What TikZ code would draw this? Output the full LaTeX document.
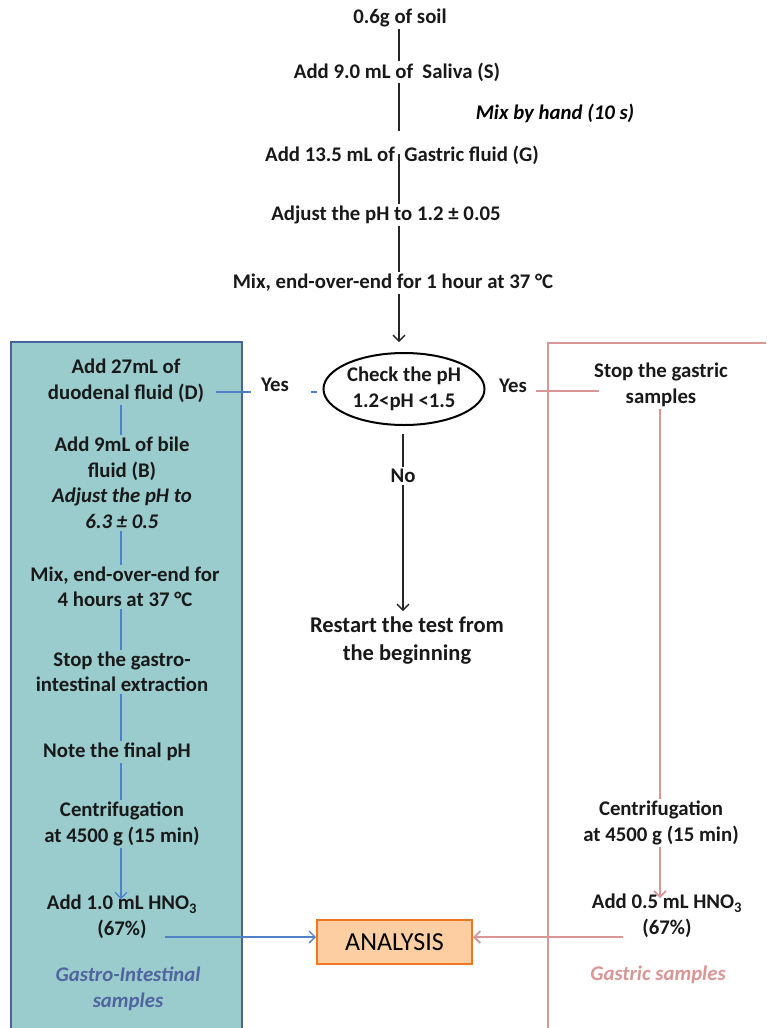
\documentclass[tikz,border=0pt]{standalone}
\usepackage{fontspec}
\setmainfont{Carlito}
\usetikzlibrary{arrows.meta,shapes.geometric,calc}
\definecolor{tealfill}{RGB}{155,204,205}
\definecolor{bluebord}{RGB}{72,98,160}
\definecolor{blueline}{RGB}{79,129,200}
\definecolor{pinkline}{RGB}{217,150,148}
\definecolor{orfill}{RGB}{252,206,162}
\definecolor{orbord}{RGB}{240,118,36}
\definecolor{gitext}{RGB}{80,100,160}
\begin{document}
\begin{tikzpicture}[x=1pt,y=-1pt,
  txt/.style={font=\bfseries\fontsize{20.8}{25.5}\selectfont, align=center, inner sep=2pt, text=black!90},
  itx/.style={font=\bfseries\itshape\fontsize{20.8}{25.5}\selectfont, align=center, inner sep=2pt},
  conn/.style={line width=1.3pt, black!85},
  bconn/.style={line width=1.3pt, blueline},
  pconn/.style={line width=1.8pt, pinkline},
  arr/.style={-{Straight Barb[length=6pt,width=12pt]}},
]
\useasboundingbox (0,0) rectangle (766,1028);
\begin{scope}
\clip (0,0) rectangle (766,1028);
% side panels
\draw[fill=tealfill, draw=bluebord, line width=2.4pt] (11,342) rectangle (242,1060);
\draw[fill=white, draw=pinkline, line width=2.4pt] (548,343) rectangle (800,1060);
\end{scope}

\coordinate (cmain) at (399,0);
\coordinate (cno) at (403,0);
\coordinate (cl) at (121,0);
\coordinate (cr) at (660,0);
\coordinate (yl) at (0,392);
\coordinate (yr) at (0,391);

% main column
\node[txt] (soil) at (400,18) {0.6g of soil};
\node[txt] (saliva) at (397,72) {Add 9.0 mL of\ \ Saliva (S)};
\node[itx] (mixhand) at (555,113) {Mix by hand (10 s)};
\node[txt] (gastric) at (402,155) {Add 13.5 mL of\ \ Gastric fluid (G)};
\node[txt] (adjust) at (386,215) {Adjust the pH to 1.2 ± 0.05};
\node[txt] (mix1) at (393,283) {Mix, end-over-end for 1 hour at 37 °C};
\node[txt, ellipse, draw=black, line width=2pt, minimum width=160pt, minimum height=72pt, inner sep=0pt] (check) at (404,389) {Check the pH\\1.2<pH <1.5};
\node[txt] (yesL) at (275,385) {Yes};
\node[txt] (yesR) at (513,386) {Yes};
\node[txt] (no) at (403,476) {No};
\node[txt, font=\bfseries\fontsize{22.5}{28}\selectfont] (restart) at (407,641) {Restart the test from\\the beginning};

% left column
\node[txt] (duod) at (126,381) {Add 27mL of\\duodenal fluid (D)};
\node[txt] (bile) at (122,483) {Add 9mL of bile\\fluid (B)\\\textit{Adjust the pH to}\\\textit{6.3 ± 0.5}};
\node[txt] (mix4) at (125,587) {Mix, end-over-end for\\4 hours at 37 °C};
\node[txt] (stopgi) at (122,672) {Stop the gastro-\\intestinal extraction};
\node[txt] (note) at (117,752) {Note the final pH};
\node[txt] (centL) at (122,824) {Centrifugation\\at 4500 g (15 min)};
\node[txt] (hno1) at (122,917) {Add 1.0 mL HNO\textsubscript{3}\\(67\%)};
\node[itx, text=gitext] (gil) at (128,989) {Gastro-Intestinal\\samples};

% right column
\node[txt] (stopg) at (661,385) {Stop the gastric\\samples};
\node[txt] (centR) at (661,823) {Centrifugation\\at 4500 g (15 min)};
\node[txt] (hno2) at (667,916) {Add 0.5 mL HNO\textsubscript{3}\\(67\%)};
\node[itx, text=pinkline] (gl) at (658,975) {Gastric samples};

% analysis
\node[draw=orbord, fill=orfill, line width=2pt, minimum width=155pt, minimum height=44pt, inner sep=0pt,
      font=\fontsize{26}{30}\selectfont] (analysis) at (394.5,942) {ANALYSIS};

% main connectors
\draw[conn] (soil.south -| cmain) -- (saliva.north -| cmain);
\draw[conn] (saliva.south -| cmain) -- ($(gastric.north -| cmain)+(0,-13)$);
\draw[conn] ($(gastric.south -| cmain)+(0,-12)$) -- (adjust.north -| cmain);
\draw[conn] (adjust.south -| cmain) -- (mix1.north -| cmain);
\draw[conn, arr, shorten >=10pt] (mix1.south -| cmain) -- (check.north -| cmain);
\draw[conn, shorten <=8pt] (check.south -| cno) -- (no.north -| cno);
\draw[conn, arr, shorten >=4pt] (no.south -| cno) -- (restart.north -| cno);

% yes branches
\draw[bconn, shorten <=8pt, shorten >=10pt] (yesL.west |- yl) -- (duod.east |- yl);
\draw[bconn, shorten <=5pt, shorten >=20pt] (check.west |- yl) -- (yesL.east |- yl);
\draw[pconn, shorten <=7pt, shorten >=-7pt] (yesR.east |- yr) -- (stopg.west |- yr);

% left connectors
\draw[bconn] (duod.south -| cl) -- (bile.north -| cl);
\draw[bconn] (bile.south -| cl) -- (mix4.north -| cl);
\draw[bconn] (mix4.south -| cl) -- (stopgi.north -| cl);
\draw[bconn] (stopgi.south -| cl) -- (note.north -| cl);
\draw[bconn] (note.south -| cl) -- (centL.north -| cl);
\draw[bconn, arr] (centL.south -| cl) -- ($(hno1.north -| cl)+(0,6)$);

% right connectors
\draw[pconn] (stopg.south -| cr) -- (centR.north -| cr);
\draw[pconn, arr] (centR.south -| cr) -- ($(hno2.north -| cr)+(0,6)$);

% to analysis
\coordinate (ba) at (165,937);
\coordinate (pa) at (623,937);
\draw[bconn, arr] (ba) -- (analysis.west |- ba);
\draw[pconn, arr] (pa) -- (analysis.east |- pa);
\end{tikzpicture}
\end{document}
